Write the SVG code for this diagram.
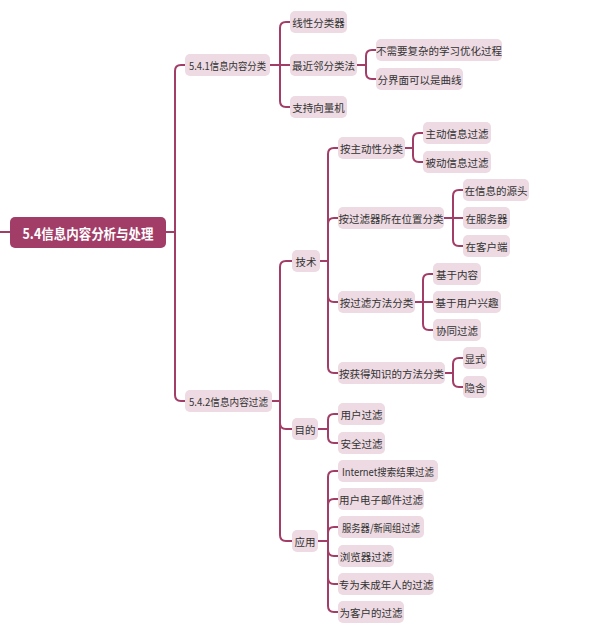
<svg xmlns="http://www.w3.org/2000/svg" width="607" height="634" viewBox="0 0 607 634">
<style>
.c{fill:none;stroke:#A23D68;stroke-width:2;stroke-linecap:round;stroke-linejoin:round}
.n rect{fill:#EDDAE2}
.n text{font-family:"Noto Sans CJK SC","Noto Sans",sans-serif;font-size:10.5px;fill:#333;text-anchor:middle;dominant-baseline:central}
.r rect{fill:#A23D68}
.r text{font-family:"Noto Sans CJK SC","Noto Sans",sans-serif;font-size:14px;font-weight:bold;fill:#fff;text-anchor:middle;dominant-baseline:central}
</style>
<rect width="607" height="634" fill="#fff"/>
<g id="connectors">
<path class="c" d="M0,232 H10"/>
<path class="c" d="M166,232 H175 V71 Q175,65 181,65 H185"/>
<path class="c" d="M166,232 H175 V395 Q175,401 181,401 H185"/>
<path class="c" d="M270,65 H280 V28 Q280,22 286,22 H290"/>
<path class="c" d="M270,65 H290"/>
<path class="c" d="M270,65 H280 V101 Q280,107 286,107 H290"/>
<path class="c" d="M357,65 H366 V56 Q366,50 372,50 H376"/>
<path class="c" d="M357,65 H366 V73 Q366,79 372,79 H376"/>
<path class="c" d="M272,401 H280 V267 Q280,261 286,261 H292"/>
<path class="c" d="M272,401 H280 V423 Q280,429 286,429 H292"/>
<path class="c" d="M272,401 H280 V535 Q280,541 286,541 H292"/>
<path class="c" d="M320,261 H328 V154 Q328,148 334,148 H338"/>
<path class="c" d="M320,261 H328 V224 Q328,218 334,218 H338"/>
<path class="c" d="M320,261 H328 V296 Q328,302 334,302 H338"/>
<path class="c" d="M320,261 H328 V367 Q328,373 334,373 H338"/>
<path class="c" d="M405,148 H413 V139 Q413,133 419,133 H423"/>
<path class="c" d="M405,148 H413 V156 Q413,162 419,162 H423"/>
<path class="c" d="M444,218 H453 V196 Q453,190 459,190 H463"/>
<path class="c" d="M444,218 H463"/>
<path class="c" d="M444,218 H453 V240 Q453,246 459,246 H463"/>
<path class="c" d="M415,302 H423 V280 Q423,274 429,274 H433"/>
<path class="c" d="M415,302 H433"/>
<path class="c" d="M415,302 H423 V324 Q423,330 429,330 H433"/>
<path class="c" d="M445,373 H453 V364 Q453,358 459,358 H463"/>
<path class="c" d="M445,373 H453 V381 Q453,387 459,387 H463"/>
<path class="c" d="M318,429 H328 V420 Q328,414 334,414 H338"/>
<path class="c" d="M318,429 H328 V437 Q328,443 334,443 H338"/>
<path class="c" d="M318,541 H328 V477 Q328,471 334,471 H338"/>
<path class="c" d="M318,541 H328 V505 Q328,499 334,499 H338"/>
<path class="c" d="M318,541 H328 V533 Q328,527 334,527 H338"/>
<path class="c" d="M318,541 H328 V550 Q328,556 334,556 H338"/>
<path class="c" d="M318,541 H328 V578 Q328,584 334,584 H338"/>
<path class="c" d="M318,541 H328 V606 Q328,612 334,612 H338"/>
</g>
<g id="root" class="r"><rect x="10" y="217" width="156" height="31" rx="5"/><text x="88" y="232.5" textLength="131" lengthAdjust="spacingAndGlyphs">5.4信息内容分析与处理</text></g>
<g id="n541" class="n"><rect x="185" y="54" width="85" height="22" rx="5"/><text x="227.5" y="65" textLength="77" lengthAdjust="spacingAndGlyphs">5.4.1信息内容分类</text></g>
<g id="n_xxfl" class="n"><rect x="290" y="11" width="57" height="22" rx="5"/><text x="318.5" y="22">线性分类器</text></g>
<g id="n_zjl" class="n"><rect x="290" y="54" width="67" height="22" rx="5"/><text x="323.5" y="65">最近邻分类法</text></g>
<g id="n_zcxl" class="n"><rect x="290" y="96" width="57" height="22" rx="5"/><text x="318.5" y="107">支持向量机</text></g>
<g id="n_bxy" class="n"><rect x="376" y="39" width="126" height="22" rx="5"/><text x="439" y="50">不需要复杂的学习优化过程</text></g>
<g id="n_fjm" class="n"><rect x="376" y="68" width="87" height="22" rx="5"/><text x="419.5" y="79">分界面可以是曲线</text></g>
<g id="n542" class="n"><rect x="185" y="390" width="87" height="22" rx="5"/><text x="228.5" y="401" textLength="79" lengthAdjust="spacingAndGlyphs">5.4.2信息内容过滤</text></g>
<g id="n_js" class="n"><rect x="292" y="250" width="28" height="22" rx="5"/><text x="306" y="261">技术</text></g>
<g id="n_md" class="n"><rect x="292" y="418" width="26" height="22" rx="5"/><text x="305" y="429">目的</text></g>
<g id="n_yy" class="n"><rect x="292" y="530" width="26" height="22" rx="5"/><text x="305" y="541">应用</text></g>
<g id="n_zdx" class="n"><rect x="338" y="137" width="67" height="22" rx="5"/><text x="371.5" y="148">按主动性分类</text></g>
<g id="n_zdxx" class="n"><rect x="423" y="122" width="68" height="22" rx="5"/><text x="457" y="133">主动信息过滤</text></g>
<g id="n_bdxx" class="n"><rect x="423" y="151" width="68" height="22" rx="5"/><text x="457" y="162">被动信息过滤</text></g>
<g id="n_wz" class="n"><rect x="338" y="207" width="106" height="22" rx="5"/><text x="391" y="218">按过滤器所在位置分类</text></g>
<g id="n_yt" class="n"><rect x="463" y="179" width="66" height="22" rx="5"/><text x="496" y="190">在信息的源头</text></g>
<g id="n_fwq" class="n"><rect x="463" y="207" width="47" height="22" rx="5"/><text x="486.5" y="218">在服务器</text></g>
<g id="n_khd" class="n"><rect x="463" y="235" width="47" height="22" rx="5"/><text x="486.5" y="246">在客户端</text></g>
<g id="n_ff" class="n"><rect x="338" y="291" width="77" height="22" rx="5"/><text x="376.5" y="302">按过滤方法分类</text></g>
<g id="n_jynr" class="n"><rect x="433" y="263" width="48" height="22" rx="5"/><text x="457" y="274">基于内容</text></g>
<g id="n_jyyh" class="n"><rect x="433" y="291" width="68" height="22" rx="5"/><text x="467" y="302">基于用户兴趣</text></g>
<g id="n_xt" class="n"><rect x="433" y="319" width="48" height="22" rx="5"/><text x="457" y="330">协同过滤</text></g>
<g id="n_zs" class="n"><rect x="338" y="362" width="107" height="22" rx="5"/><text x="391.5" y="373">按获得知识的方法分类</text></g>
<g id="n_xs" class="n"><rect x="463" y="347" width="24" height="22" rx="5"/><text x="475" y="358">显式</text></g>
<g id="n_yh" class="n"><rect x="463" y="376" width="24" height="22" rx="5"/><text x="475" y="387">隐含</text></g>
<g id="n_yhgl" class="n"><rect x="338" y="403" width="47" height="22" rx="5"/><text x="361.5" y="414">用户过滤</text></g>
<g id="n_aqgl" class="n"><rect x="338" y="432" width="47" height="22" rx="5"/><text x="361.5" y="443">安全过滤</text></g>
<g id="n_int" class="n"><rect x="338" y="460" width="100" height="22" rx="5"/><text x="388" y="471" textLength="92" lengthAdjust="spacingAndGlyphs">Internet搜索结果过滤</text></g>
<g id="n_yj" class="n"><rect x="338" y="488" width="86" height="22" rx="5"/><text x="381" y="499">用户电子邮件过滤</text></g>
<g id="n_xwz" class="n"><rect x="338" y="516" width="86" height="22" rx="5"/><text x="381" y="527" textLength="78" lengthAdjust="spacingAndGlyphs">服务器/新闻组过滤</text></g>
<g id="n_llq" class="n"><rect x="338" y="545" width="56" height="22" rx="5"/><text x="366" y="556">浏览器过滤</text></g>
<g id="n_wcn" class="n"><rect x="338" y="573" width="96" height="22" rx="5"/><text x="386" y="584">专为未成年人的过滤</text></g>
<g id="n_kh" class="n"><rect x="338" y="601" width="66" height="22" rx="5"/><text x="371" y="612">为客户的过滤</text></g>
</svg>
